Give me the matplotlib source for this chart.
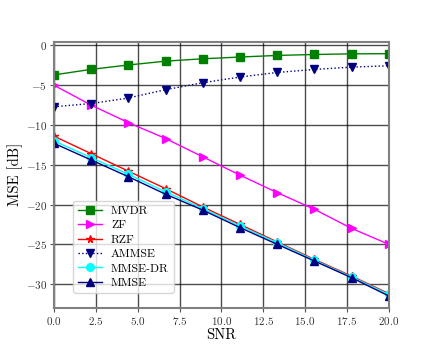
import numpy as np
import matplotlib
matplotlib.use('Agg')
import matplotlib.pyplot as plt

#------------------------datos------------------------------------------
snr = np.linspace(0, 20, 10)
mvdr = [-3.7, -3.0, -2.45, -1.97, -1.67, -1.45, -1.25, -1.13, -1.05, -1.03]
zf = [-5.0, -7.5, -9.7, -11.7, -14.0, -16.3, -18.5, -20.6, -23.0, -25.0]
rzf = [-11.4, -13.6, -15.8, -18.0, -20.3, -22.5, -24.7, -26.9, -29.0, -31.2]
ammse = [-7.7, -7.3, -6.6, -5.56, -4.68, -3.97, -3.39, -3.01, -2.72, -2.55]
mmse_dr = [-12.0, -14.1, -16.2, -18.4, -20.5, -22.7, -24.8, -27.0, -29.1, -31.3]
mmse = [-12.3, -14.4, -16.5, -18.7, -20.7, -22.9, -25.0, -27.1, -29.2, -31.5]

#-----------------------------Set matplotlib----------------
plt.rcParams['font.family'] = 'serif'
plt.rcParams['font.serif'] = ['cmr10']
plt.rcParams['mathtext.fontset'] = 'cm'
plt.rcParams['axes.formatter.use_mathtext'] = True
plt.rcParams['axes.unicode_minus'] = True
plt.rcParams['font.size'] = 10

fig, ax = plt.subplots(figsize=(4.32, 3.46), dpi=100)

ax.plot(snr, mvdr, color='green', marker='s', markersize=5.5, lw=1, label='MVDR')
ax.plot(snr, zf, color='magenta', marker='>', markersize=5.5, lw=1, label='ZF')
ax.plot(snr, rzf, color='red', marker='*', markersize=5.5, lw=1, label='RZF')
ax.plot(snr, ammse, color='navy', marker='v', markersize=5.5, lw=1, ls=':', label='AMMSE')
ax.plot(snr, mmse_dr, color='cyan', marker='o', markersize=5.5, lw=1, label='MMSE-DR')
ax.plot(snr, mmse, color='navy', marker='^', markersize=5.5, lw=1, label='MMSE')

ax.set_xlim(0, 20)
ax.set_ylim(-33, 0.5)
ax.set_xlabel('SNR', fontsize=10.5, labelpad=1)
ax.set_ylabel('MSE [dB]', fontsize=10.5, labelpad=2)
ax.grid(color='black', alpha=0.7, lw=1)
for s in ax.spines.values():
    s.set_color('gray')
    s.set_linewidth(1.5)
ax.tick_params(colors='#555555', labelcolor='#333333', labelsize=8, length=3, pad=2)
ax.legend(loc='lower left', bbox_to_anchor=(0.04, 0.035), fontsize=8.5, labelspacing=0.35,
          handlelength=2.0, borderpad=0.4)

plt.savefig('out.png', dpi=100)
